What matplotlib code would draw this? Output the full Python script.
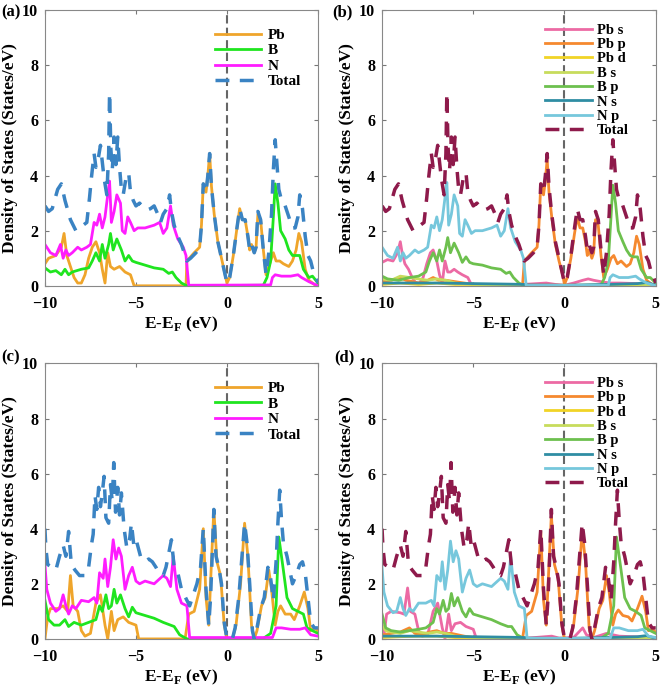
import matplotlib
matplotlib.use("Agg")
import matplotlib.pyplot as plt

plt.rcParams["font.family"] = "Liberation Serif"
plt.rcParams["font.weight"] = "bold"
plt.rcParams["mathtext.fontset"] = "custom"
plt.rcParams["mathtext.rm"] = "Liberation Serif:bold"
plt.rcParams["mathtext.bf"] = "Liberation Serif:bold"

# ---------------- panel (a) / (b) : total DOS ----------------
tot_a_e = [-10, -9.8, -9.6, -9.3, -9.1, -8.9, -8.6, -8.3, -8.1, -7.9, -7.7, -7.55, -7.45, -7.3, -7.2,
           -7.05, -6.95, -6.85, -6.75, -6.6, -6.5, -6.45, -6.38, -6.3, -6.2, -6.1, -6.0, -5.9, -5.8,
           -5.7, -5.55, -5.4, -5.3, -5.15, -5.0, -4.8, -4.6, -4.4, -4.2, -4.0, -3.8, -3.65, -3.5,
           -3.3, -3.15, -3.05, -2.9, -2.7, -2.5, -2.3, -2.2, -2.0, -1.7, -1.5, -1.4, -1.3, -1.15,
           -1.05, -0.95, -0.85, -0.7, -0.5, -0.3, -0.1, 0.0, 0.15, 0.35, 0.55, 0.7, 0.85, 1.0, 1.15,
           1.25, 1.35, 1.5, 1.6, 1.7, 1.85, 2.0, 2.15, 2.3, 2.45, 2.55, 2.65, 2.75, 2.85, 3.0, 3.15,
           3.3, 3.45, 3.6, 3.75, 3.9, 4.0, 4.15, 4.3, 4.45, 4.6, 4.75, 4.9, 5.0]
tot_a = [2.9, 2.7, 2.8, 3.5, 3.7, 3.1, 2.4, 2.0, 2.1, 2.2, 2.3, 3.2, 3.9, 4.8, 4.3,
         4.7, 5.1, 4.5, 3.9, 3.3, 4.8, 7.0, 5.0, 4.2, 5.4, 4.4, 5.4, 4.3, 3.5,
         3.3, 3.9, 4.1, 3.4, 3.1, 2.9, 3.0, 2.85, 2.75, 2.8, 2.9, 2.6, 2.3, 2.6,
         2.8, 3.3, 2.7, 2.2, 1.8, 1.5, 1.1, 0.9, 1.0, 1.2, 1.4, 2.2, 3.7, 3.4,
         4.0, 4.8, 3.6, 2.6, 1.6, 1.0, 0.4, 0.1, 0.3, 1.1, 2.1, 2.8, 2.4, 2.4, 1.8,
         1.3, 1.5, 1.2, 1.4, 2.7, 2.4, 1.3, 0.4, 1.2, 2.6, 4.2, 5.3, 4.4, 3.5, 3.1, 3.0,
         2.7, 2.4, 2.1, 2.1, 2.5, 3.3, 2.8, 1.8, 1.1, 0.9, 0.5, 0.3, 0.1]

pb_a_e = [-10, -9.8, -9.4, -9.1, -8.95, -8.8, -8.6, -8.4, -8.2, -8.0, -7.8, -7.6, -7.4, -7.2, -7.0,
          -6.85, -6.7, -6.55, -6.4, -6.2, -5.9, -5.6, -5.3, -5.1, -3.0, -2.25, -2.2, -1.8, -1.5,
          -1.4, -1.3, -1.15, -1.05, -0.95, -0.85, -0.7, -0.5, -0.3, -0.1, 0.0, 0.15, 0.35, 0.55,
          0.7, 0.85, 1.0, 1.15, 1.25, 1.35, 1.5, 1.6, 1.7, 1.85, 2.0, 2.15, 2.35, 2.55, 2.7, 2.9,
          3.1, 3.4, 3.6, 3.8, 3.95, 4.1, 4.3, 4.5, 4.8, 5.0]
pb_a = [0.8, 1.0, 1.1, 1.4, 1.9, 1.1, 0.7, 0.3, 0.1, 0.1, 0.4, 1.0, 1.4, 1.6, 1.2,
        0.6, 0.1, 1.2, 0.7, 0.6, 0.7, 0.5, 0.4, 0.0, 0.0, 0.0, 0.9, 1.2, 1.4,
        2.2, 3.7, 3.4, 4.0, 4.8, 3.6, 2.6, 1.6, 1.0, 0.4, 0.1, 0.3, 1.1, 2.1,
        2.8, 2.4, 2.4, 1.8, 1.3, 1.5, 1.2, 1.4, 2.6, 2.4, 1.3, 0.4, 0.8, 1.2, 0.9, 0.9,
        0.8, 0.7, 0.9, 1.3, 1.9, 1.6, 0.6, 0.2, 0.05, 0.0]

b_a_e = [-10, -9.7, -9.4, -9.1, -8.9, -8.7, -8.5, -8.0, -7.6, -7.4, -7.2, -7.0, -6.85, -6.7, -6.5,
         -6.4, -6.25, -6.05, -5.8, -5.6, -5.4, -5.2, -5.0, -4.5, -4.0, -3.5, -3.2, -3.0, -2.8,
         -2.5, -2.2, 2.0, 2.2, 2.4, 2.55, 2.65, 2.8, 2.95, 3.2, 3.4, 3.6, 3.8, 4.0, 4.2, 4.5,
         4.7, 5.0]
b_a = [0.65, 0.5, 0.55, 0.4, 0.6, 0.4, 0.5, 0.6, 0.65, 0.9, 1.2, 0.9, 1.5, 1.0, 1.5,
       1.9, 1.3, 1.7, 1.3, 0.9, 1.1, 0.9, 0.85, 0.75, 0.65, 0.6, 0.45, 0.5, 0.3,
       0.1, 0.0, 0.02, 0.3, 0.9, 2.5, 3.7, 3.0, 2.0, 1.7, 1.3, 1.1, 1.1, 1.1, 0.6, 0.3,
       0.35, 0.1]

n_a_e = [-10, -9.7, -9.4, -9.15, -9.0, -8.85, -8.7, -8.5, -8.2, -8.0, -7.7, -7.5, -7.3, -7.15, -7.0,
         -6.85, -6.7, -6.55, -6.45, -6.35, -6.2, -6.05, -5.85, -5.75, -5.6, -5.45, -5.3, -5.1,
         -4.9, -4.5, -4.0, -3.7, -3.5, -3.3, -3.1, -2.95, -2.7, -2.4, -2.25, -2.1, 2.4, 2.5,
         2.65, 3.0, 3.5, 3.9, 4.1, 4.5, 5.0]
n_a = [1.5, 1.2, 1.1, 1.5, 1.0, 1.3, 1.1, 1.2, 1.4, 1.3, 1.4, 1.5, 2.3, 2.2, 2.6,
       2.1, 2.5, 3.3, 3.8, 2.3, 2.7, 3.3, 3.0, 2.0, 1.9, 2.5, 2.3, 2.0,
       2.1, 2.1, 2.2, 2.3, 1.9, 2.1, 2.9, 2.2, 1.7, 1.4, 1.1, 0.02, 0.03, 0.3,
       0.4, 0.35, 0.35, 0.4, 0.3, 0.15, 0.0]

# orbital-resolved, panel (b)
pbs_b_e = [-10, -9.7, -9.4, -9.15, -9.0, -8.9, -8.75, -8.55, -8.35, -8.15, -7.95, -7.75, -7.55, -7.35,
           -7.2, -7.0, -6.85, -6.7, -6.55, -6.4, -6.25, -6.05, -5.85, -5.6, -5.3, -5.15, -5.0, -3.0,
           -1.0, -0.5, 0.0, 0.5, 1.0, 1.3, 1.6, 2.0, 2.5, 3.0, 4.0, 5.0]
pbs_b = [0.85, 0.95, 0.9, 1.2, 1.6, 1.2, 0.8, 0.6, 0.3, 0.1, 0.1, 0.3, 0.8, 1.2,
         1.3, 0.9, 0.4, 0.1, 0.9, 0.5, 0.5, 0.6, 0.5, 0.4, 0.3, 0.1, 0.03, 0.02,
         0.1, 0.05, 0.02, 0.1, 0.2, 0.25, 0.2, 0.15, 0.1, 0.1, 0.08, 0.05]

pbp_b_e = [-10, -9.5, -9.0, -8.7, -8.3, -8.0, -7.5, -7.2, -6.9, -6.5, -6.0, -5.5, -5.0, -4.0, -2.3,
           -2.2, -1.8, -1.5, -1.4, -1.3, -1.15, -1.05, -0.95, -0.85, -0.7, -0.5, -0.3, -0.1, 0.0,
           0.15, 0.35, 0.55, 0.7, 0.85, 1.0, 1.15, 1.25, 1.35, 1.5, 1.6, 1.7, 1.85, 2.0, 2.15,
           2.35, 2.55, 2.7, 2.9, 3.1, 3.4, 3.6, 3.8, 3.95, 4.1, 4.3, 4.5, 4.8, 5.0]
pbp_b = [0.15, 0.2, 0.3, 0.2, 0.15, 0.1, 0.2, 0.3, 0.2, 0.2, 0.15, 0.1, 0.05, 0.02, 0.02,
         0.9, 1.2, 1.4, 2.2, 3.7, 3.3, 3.8, 4.6, 3.4, 2.5, 1.5, 0.9, 0.4, 0.05,
         0.3, 1.0, 1.9, 2.5, 2.1, 2.1, 1.6, 1.1, 1.3, 1.0, 1.2, 2.4, 2.2, 1.1, 0.3,
         0.6, 1.0, 1.1, 0.8, 0.9, 0.7, 0.8, 1.2, 1.8, 1.5, 0.6, 0.2, 0.05, 0.0]

pbd_b_e = [-10, -9, -8, -7, -6, -5, -4, 0, 2, 3, 4, 5]
pbd_b = [0.05, 0.1, 0.05, 0.1, 0.05, 0.05, 0.02, 0.02, 0.02, 0.05, 0.03, 0.02]

bs_b_e = [-10, -9.5, -9.0, -8.5, -8.0, -7.5, -7.0, -6.5, -6.0, -5.0, -3.0, -2.0, 2.5, 3.0, 4.0, 5.0]
bs_b = [0.25, 0.2, 0.35, 0.3, 0.25, 0.2, 0.25, 0.2, 0.1, 0.05, 0.02, 0.0, 0.02, 0.05, 0.05, 0.02]

bp_b_e = [-10, -9.7, -9.1, -8.5, -8.0, -7.6, -7.4, -7.2, -7.0, -6.85, -6.7, -6.5, -6.4, -6.25, -6.05,
          -5.8, -5.6, -5.4, -5.2, -5.0, -4.5, -4.0, -3.5, -3.2, -3.0, -2.8, -2.5, -2.2, 2.0, 2.2,
          2.4, 2.55, 2.65, 2.8, 2.95, 3.2, 3.4, 3.6, 3.8, 4.0, 4.2, 4.5, 4.7, 5.0]
bp_b = [0.35, 0.25, 0.2, 0.3, 0.35, 0.5, 0.9, 1.2, 0.9, 1.3, 0.9, 1.4, 1.75, 1.2, 1.55,
        1.2, 0.85, 1.05, 0.85, 0.8, 0.75, 0.65, 0.6, 0.45, 0.5, 0.3, 0.1, 0.0, 0.02, 0.3,
        0.9, 2.5, 3.65, 3.0, 2.0, 1.6, 1.3, 1.1, 1.05, 1.05, 0.6, 0.3, 0.3, 0.1]

ns_b_e = [-10, -7, -5, -3, -2.2, -2.0, 0, 2.5, 4.0, 4.5, 5.0]
ns_b = [0.1, 0.1, 0.08, 0.06, 0.05, 0.03, 0.02, 0.05, 0.08, 0.12, 0.02]

np_b_e = n_a_e
np_b = [1.4, 1.1, 1.0, 1.4, 0.9, 1.2, 1.0, 1.1, 1.3, 1.2, 1.3, 1.4, 2.2, 2.1, 2.5,
        2.0, 2.4, 3.2, 3.75, 2.2, 2.6, 3.3, 2.9, 1.9, 1.8, 2.4, 2.2, 1.9,
        2.0, 2.0, 2.1, 2.2, 1.8, 2.0, 2.8, 2.1, 1.6, 1.3, 1.0, 0.01, 0.02, 0.3,
        0.4, 0.3, 0.3, 0.35, 0.25, 0.1, 0.0]

# ---------------- panel (c) / (d) ----------------
tot_c_e = [-10, -9.95, -9.85, -9.6, -9.4, -9.2, -9.0, -8.85, -8.7, -8.55, -8.35, -8.1, -7.8, -7.6,
           -7.45, -7.35, -7.25, -7.15, -7.05, -6.95, -6.85, -6.75, -6.65, -6.5, -6.4, -6.3, -6.22,
           -6.12, -6.0, -5.9, -5.8, -5.65, -5.5, -5.35, -5.25, -5.1, -4.95, -4.75, -4.5, -4.3,
           -4.1, -3.9, -3.7, -3.5, -3.35, -3.2, -3.05, -2.9, -2.7, -2.5, -2.35, -2.2, -2.05, -1.9,
           -1.65, -1.45, -1.3, -1.15, -1.0, -0.9, -0.8, -0.72, -0.6, -0.45, -0.3, -0.15, 0.0, 0.3,
           0.45, 0.65, 0.85, 0.97, 1.1, 1.25, 1.4, 1.5, 1.65, 1.85, 2.05, 2.25, 2.4, 2.55, 2.7,
           2.8, 2.9, 3.0, 3.1, 3.3, 3.45, 3.6, 3.8, 4.0, 4.15, 4.3, 4.45, 4.6, 4.8, 5.0]
tot_c = [4.0, 3.3, 2.7, 2.6, 2.5, 3.0, 3.4, 3.0, 3.9, 2.7, 2.5, 2.3, 2.3, 2.6,
         3.4, 3.8, 5.2, 4.7, 5.5, 4.8, 5.3, 5.9, 4.4, 4.2, 5.6, 5.0, 6.4,
         4.6, 5.5, 4.5, 5.3, 4.0, 3.3, 3.6, 4.2, 3.3, 3.5, 3.0, 2.8, 2.9,
         2.8, 2.6, 2.35, 2.3, 2.6, 3.1, 3.6, 2.6, 2.4, 1.8, 1.6, 1.4, 1.2, 1.5,
         2.0, 2.6, 4.0, 1.8, 0.5, 1.5, 3.2, 4.7, 3.0, 2.6, 2.0, 0.6, 0.0, 0.0,
         0.4, 1.5, 3.2, 4.2, 3.5, 2.0, 0.3, 0.0, 0.4, 1.1, 1.5, 2.6, 2.2, 1.4, 2.8,
         4.2, 5.4, 4.3, 3.5, 3.0, 2.5, 2.0, 2.3, 2.7, 2.8, 2.4, 1.5, 0.6, 0.4, 0.4]

pb_c_e = [-10, -9.85, -9.7, -9.3, -9.0, -8.75, -8.6, -8.45, -8.2, -8.0, -7.8, -7.5, -7.2, -6.95,
          -6.7, -6.55, -6.35, -6.2, -6.0, -5.7, -5.4, -5.0, -4.85, -3.0, -2.3, -2.1, -1.8, -1.5,
          -1.3, -1.15, -1.0, -0.85, -0.72, -0.55, -0.35, -0.15, 0.0, 0.3, 0.5, 0.75, 0.97, 1.15,
          1.35, 1.5, 1.65, 1.9, 2.1, 2.3, 2.45, 2.65, 2.8, 2.95, 3.2, 3.5, 3.7, 4.0, 4.25, 4.45,
          4.6, 4.8, 5.0]
pb_c = [0.0, 0.8, 1.1, 1.1, 1.2, 1.0, 2.3, 1.2, 1.0, 0.3, 0.1, 0.2, 1.3, 1.6,
        0.5, 0.0, 1.0, 0.3, 0.7, 0.8, 0.6, 0.5, 0.0, 0.0, 0.0, 0.9, 1.0, 1.8,
        4.0, 1.5, 0.5, 2.8, 4.7, 2.8, 2.3, 0.5, 0.0, 0.0, 0.5, 2.0, 4.2, 3.0,
        0.5, 0.0, 0.3, 1.2, 1.5, 2.5, 1.8, 0.5, 1.0, 1.2, 0.9, 0.9, 0.7, 1.2, 1.7, 1.1,
        0.3, 0.4, 0.3]

b_c_e = [-10, -9.8, -9.5, -9.2, -8.9, -8.7, -8.4, -8.0, -7.6, -7.2, -7.0, -6.85, -6.65, -6.5, -6.35,
         -6.2, -6.05, -5.85, -5.6, -5.4, -5.2, -5.0, -4.5, -4.0, -3.5, -3.1, -2.9, -2.6, -2.2,
         2.0, 2.4, 2.7, 2.85, 3.1, 3.3, 3.6, 3.9, 4.2, 4.4, 4.7, 5.0]
b_c = [1.4, 0.7, 0.5, 0.5, 0.7, 0.45, 0.6, 0.5, 0.6, 0.7, 1.2, 1.0, 1.6, 1.1, 1.2,
       1.8, 1.3, 1.6, 1.1, 0.8, 1.15, 0.95, 0.85, 0.75, 0.6, 0.5, 0.45, 0.15, 0.0,
       0.02, 0.2, 1.2, 3.7, 2.5, 1.5, 1.1, 1.0, 0.9, 0.4, 0.3, 0.2]

n_c_e = [-10, -9.9, -9.7, -9.4, -9.2, -9.0, -8.85, -8.7, -8.5, -8.3, -8.0, -7.6, -7.3, -7.15, -7.0,
         -6.8, -6.7, -6.55, -6.4, -6.25, -6.1, -5.95, -5.8, -5.6, -5.4, -5.2, -5.0, -4.8, -4.5,
         -4.0, -3.5, -3.3, -3.1, -2.95, -2.75, -2.5, -2.2, -2.05, 2.5, 2.7, 3.0, 3.5, 4.0, 4.3,
         4.6, 5.0]
n_c = [2.7, 1.8, 1.3, 1.0, 1.1, 1.6, 1.2, 0.9, 1.2, 1.1, 1.4, 1.35, 1.5, 1.3, 2.4,
       2.2, 2.9, 1.9, 2.6, 3.6, 2.9, 3.3, 3.0, 1.8, 2.3, 2.6, 2.1, 2.0, 2.1,
       2.0, 2.3, 2.2, 1.9, 3.0, 1.8, 1.3, 1.2, 0.05, 0.05, 0.4, 0.4, 0.35, 0.35, 0.4,
       0.15, 0.1]

# orbital-resolved, panel (d)
pbs_d_e = [-10, -9.9, -9.75, -9.5, -9.0, -8.8, -8.6, -8.45, -8.2, -8.0, -7.8, -7.5, -7.2, -6.95,
           -6.7, -6.55, -6.35, -6.2, -6.0, -5.7, -5.4, -5.0, -4.85, -2.0, -0.7, -0.3, 0.5, 1.0,
           1.2, 1.6, 2.3, 3.0, 5.0]
pbs_d = [0.5, 0.1, 0.9, 1.0, 0.95, 0.9, 1.85, 1.0, 0.9, 0.3, 0.1, 0.15, 1.0, 1.3,
         0.4, 0.0, 0.9, 0.3, 0.55, 0.6, 0.45, 0.35, 0.05, 0.03, 0.1, 0.03, 0.05, 0.4,
         0.15, 0.05, 0.2, 0.1, 0.05]

pbp_d_e = [-10, -9.5, -9.0, -8.5, -8.2, -7.8, -7.4, -7.0, -6.6, -6.2, -5.5, -5.0, -4.0, -2.3,
           -2.1, -1.8, -1.5, -1.3, -1.15, -1.0, -0.85, -0.72, -0.55, -0.35, -0.15, 0.0, 0.3, 0.5,
           0.75, 0.97, 1.15, 1.35, 1.5, 1.65, 1.9, 2.1, 2.3, 2.45, 2.65, 2.8, 2.95, 3.2, 3.5,
           3.7, 4.0, 4.25, 4.45, 4.6, 4.8, 5.0]
pbp_d = [0.15, 0.2, 0.25, 0.4, 0.2, 0.15, 0.25, 0.3, 0.2, 0.2, 0.1, 0.05, 0.02, 0.02,
         0.85, 1.0, 1.7, 3.9, 1.4, 0.5, 2.7, 4.5, 2.7, 2.2, 0.5, 0.0, 0.0, 0.5,
         1.9, 3.9, 2.8, 0.4, 0.0, 0.3, 1.1, 1.4, 2.3, 1.7, 0.5, 0.9, 1.05, 0.85, 0.8,
         0.65, 1.1, 1.55, 1.0, 0.3, 0.35, 0.25]

pbd_d_e = [-10, -9, -8, -7, -6, -5, -4, 0, 2, 3, 4, 5]
pbd_d = [0.05, 0.08, 0.1, 0.1, 0.05, 0.05, 0.02, 0.02, 0.02, 0.05, 0.03, 0.02]

bs_d_e = [-10, -9.8, -9.5, -9.0, -8.5, -8.0, -7.5, -7.0, -6.5, -6.0, -5.0, -3.0, -2.0, 2.5, 3.0, 4.0, 5.0]
bs_d = [0.5, 0.3, 0.25, 0.2, 0.3, 0.25, 0.2, 0.25, 0.2, 0.1, 0.05, 0.02, 0.0, 0.02, 0.05, 0.05, 0.02]

bp_d_e = [-10, -9.8, -9.5, -9.0, -8.5, -8.0, -7.6, -7.2, -7.0, -6.85, -6.65, -6.5, -6.35, -6.2,
          -6.05, -5.85, -5.6, -5.4, -5.2, -5.0, -4.5, -4.0, -3.5, -3.1, -2.9, -2.6, -2.2, 2.0,
          2.4, 2.7, 2.85, 3.1, 3.3, 3.6, 3.9, 4.2, 4.4, 4.7, 5.0]
bp_d = [0.9, 0.4, 0.3, 0.25, 0.3, 0.35, 0.4, 0.6, 1.1, 0.9, 1.4, 1.0, 1.1, 1.65,
        1.2, 1.5, 1.0, 0.8, 1.1, 0.9, 0.8, 0.7, 0.55, 0.45, 0.45, 0.15, 0.0, 0.02,
        0.2, 1.2, 3.7, 2.5, 1.5, 1.1, 1.0, 0.85, 0.4, 0.3, 0.2]

ns_d_e = [-10, -7, -5, -3, -2.2, -2.0, 0, 2.5, 4.0, 4.5, 5.0]
ns_d = [0.1, 0.1, 0.08, 0.06, 0.05, 0.03, 0.02, 0.05, 0.08, 0.12, 0.02]

np_d_e = n_c_e
np_d = [2.6, 1.7, 1.2, 0.95, 1.0, 1.5, 1.1, 0.85, 1.1, 1.0, 1.3, 1.3, 1.4, 1.2, 2.3,
        2.1, 2.8, 1.8, 2.5, 3.55, 2.8, 3.2, 2.9, 1.7, 2.2, 2.5, 2.0, 1.9, 2.0,
        1.9, 2.2, 2.1, 1.8, 3.0, 1.7, 1.2, 1.1, 0.02, 0.02, 0.4, 0.4, 0.3, 0.3, 0.35,
        0.1, 0.05]

col_pb, col_b, col_n, col_tot = "#EFA52B", "#1FE51F", "#FF1CFF", "#3A83C3"
col_orb = {"Pb s": "#EC6AA4", "Pb p": "#F5892F", "Pb d": "#F1D426", "B s": "#C7DC5C",
           "B p": "#6DC04E", "N s": "#2F8DA3", "N p": "#76C7DC"}
col_tot2 = "#8E1A4B"

fig = plt.figure(figsize=(6.61, 6.87), dpi=100)
pos = {"a": [0.068, 0.584, 0.413, 0.401], "b": [0.578, 0.584, 0.414, 0.401],
       "c": [0.068, 0.070, 0.413, 0.401], "d": [0.578, 0.070, 0.414, 0.401]}


def style(ax):
    ax.set_xlim(-10, 5)
    ax.set_ylim(0, 10)
    ax.set_xticks([-10, -5, 0, 5])
    ax.set_yticks([0, 2, 4, 6, 8, 10])
    ax.tick_params(direction="in", length=3, width=0.8, color="#777777",
                   top=True, right=True, labelsize=11.5)
    ax.tick_params(axis="x", pad=7)
    ax.tick_params(axis="y", pad=5)
    for s in ax.spines.values():
        s.set_color("#888888")
        s.set_linewidth(0.8)
    ax.axvline(0, color="#666666", lw=1.5, linestyle=(0, (4, 2)), zorder=1)
    ax.set_xlabel(r"E-E$_\mathrm{F}$ (eV)", fontsize=12.5, fontweight="bold", labelpad=2)
    ax.set_ylabel("Density of States (States/eV)", fontsize=12.5, fontweight="bold", labelpad=3)


def elements(ax, d):
    ax.plot(d[0], d[1], color=col_pb, lw=2.0, label="Pb")
    ax.plot(d[2], d[3], color=col_b, lw=2.0, label="B")
    ax.plot(d[4], d[5], color=col_n, lw=2.0, label="N")
    ax.plot(d[6], d[7], color=col_tot, lw=2.5, dashes=(4, 3), label="Total")
    ax.legend(loc="upper right", bbox_to_anchor=(0.99, 0.985), frameon=False, fontsize=11,
              handlelength=3.0, handletextpad=0.45, labelspacing=0.12)


def orbitals(ax, series, tot_e, tot):
    for name, e, v in series:
        ax.plot(e, v, color=col_orb[name], lw=2.0, label=name)
    ax.plot(tot_e, tot, color=col_tot2, lw=2.5, dashes=(4, 3), label="Total")
    ax.legend(loc="upper right", bbox_to_anchor=(0.95, 1.0), frameon=False, fontsize=10.5,
              handlelength=3.2, handletextpad=0.35, labelspacing=0.08)


ax = fig.add_axes(pos["a"])
elements(ax, [pb_a_e, pb_a, b_a_e, b_a, n_a_e, n_a, tot_a_e, tot_a])
style(ax)

ax = fig.add_axes(pos["b"])
orbitals(ax, [("Pb s", pbs_b_e, pbs_b), ("Pb p", pbp_b_e, pbp_b), ("Pb d", pbd_b_e, pbd_b),
              ("B s", bs_b_e, bs_b), ("B p", bp_b_e, bp_b), ("N s", ns_b_e, ns_b),
              ("N p", np_b_e, np_b)], tot_a_e, tot_a)
style(ax)

ax = fig.add_axes(pos["c"])
elements(ax, [pb_c_e, pb_c, b_c_e, b_c, n_c_e, n_c, tot_c_e, tot_c])
style(ax)

ax = fig.add_axes(pos["d"])
orbitals(ax, [("Pb s", pbs_d_e, pbs_d), ("Pb p", pbp_d_e, pbp_d), ("Pb d", pbd_d_e, pbd_d),
              ("B s", bs_d_e, bs_d), ("B p", bp_d_e, bp_d), ("N s", ns_d_e, ns_d),
              ("N p", np_d_e, np_d)], tot_c_e, tot_c)
style(ax)

for txt, x, y in [("(a)", 0.002, 0.982), ("(b)", 0.502, 0.982),
                  ("(c)", 0.002, 0.480), ("(d)", 0.506, 0.480)]:
    fig.text(x, y, txt, fontsize=12, fontweight="bold", va="center", ha="left")

fig.savefig("out.png", dpi=100)
